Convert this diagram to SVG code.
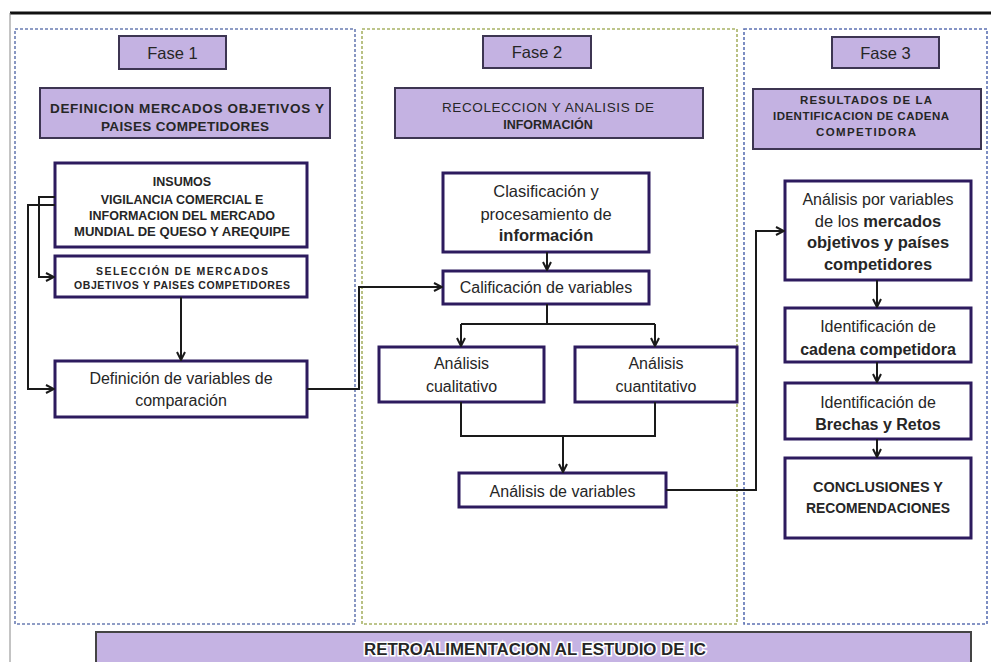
<svg xmlns="http://www.w3.org/2000/svg" width="991" height="662" viewBox="0 0 991 662">
<defs>
<marker id="arr" viewBox="0 0 10 10" refX="9" refY="5" markerWidth="10" markerHeight="10" markerUnits="userSpaceOnUse" orient="auto">
<path d="M1,1 L9,5 L1,9" fill="none" stroke="#1a1a1a" stroke-width="2"/>
</marker>
</defs>
<style>
.panel{fill:none;stroke-width:1.6;stroke-dasharray:3 2}
.lbl{fill:#c4b2e2;stroke:#3d3552;stroke-width:2}
.node{fill:#ffffff;stroke:#2d1b5e;stroke-width:3}
.conn{fill:none;stroke:#1a1a1a;stroke-width:2}
text{font-family:"Liberation Sans",Arial,sans-serif;fill:#262626;text-anchor:middle}
.b{font-weight:bold}
.hd{font-size:16.5px}
</style>
<rect width="991" height="662" fill="#ffffff"/>
<line x1="10" y1="13" x2="991" y2="13" stroke="#111" stroke-width="3"/>
<line x1="10" y1="13" x2="10" y2="662" stroke="#888" stroke-width="1"/>

<g id="panel1"><rect class="panel" x="15" y="29" width="340" height="595" stroke="#6b7db3"/></g>
<g id="panel2"><rect class="panel" x="362" y="29" width="375" height="595" stroke="#a8b266"/></g>
<g id="panel3"><rect class="panel" x="744" y="29" width="243" height="595" stroke="#5d72b3"/></g>

<g id="fase1"><rect class="lbl" x="119" y="36" width="107" height="33"/><text class="hd" x="172.5" y="58.5">Fase 1</text></g>
<g id="fase2"><rect class="lbl" x="483" y="36" width="108" height="32"/><text class="hd" x="537" y="58">Fase 2</text></g>
<g id="fase3"><rect class="lbl" x="832" y="37" width="107" height="31"/><text class="hd" x="885.5" y="58.5">Fase 3</text></g>

<g id="def-mercados"><rect class="lbl" x="40" y="88" width="290" height="50"/>
<text class="b" x="187" y="113" font-size="13.5" textLength="274" lengthAdjust="spacing">DEFINICION MERCADOS OBJETIVOS Y</text>
<text class="b" x="185" y="131" font-size="13.5" textLength="168" lengthAdjust="spacing">PAISES COMPETIDORES</text></g>

<g id="recoleccion"><rect class="lbl" x="395" y="88" width="308" height="50"/>
<text x="548" y="112" font-size="13.5" textLength="212" lengthAdjust="spacing">RECOLECCION Y ANALISIS DE</text>
<text class="b" x="548" y="129" font-size="12.5">INFORMACIÓN</text></g>

<g id="resultados"><rect class="lbl" x="753" y="89" width="228" height="60"/>
<text class="b" x="866" y="104" font-size="11.5" textLength="132" lengthAdjust="spacing">RESULTADOS DE LA</text>
<text class="b" x="861" y="120" font-size="11.5" textLength="176" lengthAdjust="spacing">IDENTIFICACION DE CADENA</text>
<text class="b" x="866" y="136" font-size="11.5" textLength="100" lengthAdjust="spacing">COMPETIDORA</text></g>

<g id="insumos"><rect class="node" x="55" y="163" width="252" height="84"/>
<text class="b" x="182" y="186" font-size="12.5">INSUMOS</text>
<text class="b" x="182" y="204" font-size="12.5">VIGILANCIA COMERCIAL E</text>
<text class="b" x="182" y="220" font-size="12.5">INFORMACION DEL MERCADO</text>
<text class="b" x="182" y="236" font-size="12.5" textLength="216" lengthAdjust="spacingAndGlyphs">MUNDIAL DE QUESO Y AREQUIPE</text></g>

<g id="seleccion"><rect class="node" x="55" y="256" width="252" height="41"/>
<text class="b" x="182" y="275" font-size="10.5" textLength="172" lengthAdjust="spacing">SELECCIÓN DE MERCADOS</text>
<text class="b" x="182" y="289" font-size="10.5" textLength="216" lengthAdjust="spacing">OBJETIVOS Y PAISES COMPETIDORES</text></g>

<g id="def-variables"><rect class="node" x="55" y="361" width="252" height="56"/>
<text x="181" y="384" font-size="16">Definición de variables de</text>
<text x="181" y="406" font-size="16">comparación</text></g>

<g id="clasificacion"><rect class="node" x="443" y="173" width="206" height="79"/>
<text x="546" y="197" font-size="16.5">Clasificación y</text>
<text x="546" y="220" font-size="16.5">procesamiento de</text>
<text class="b" x="546" y="241" font-size="16.5">información</text></g>

<g id="calificacion"><rect class="node" x="443" y="271" width="206" height="33"/>
<text x="546" y="293" font-size="16">Calificación  de variables</text></g>

<g id="cualitativo"><rect class="node" x="379" y="347" width="165" height="55"/>
<text x="461.5" y="369" font-size="16">Análisis</text>
<text x="461.5" y="392" font-size="16">cualitativo</text></g>

<g id="cuantitativo"><rect class="node" x="575" y="347" width="162" height="55"/>
<text x="656" y="369" font-size="16">Análisis</text>
<text x="656" y="392" font-size="16">cuantitativo</text></g>

<g id="analisis-variables"><rect class="node" x="459" y="473" width="207" height="34"/>
<text x="562.5" y="497" font-size="16">Análisis  de variables</text></g>

<g id="analisis-por-variables"><rect class="node" x="785" y="181" width="186" height="99"/>
<text x="878" y="205" font-size="16">Análisis por variables</text>
<text x="878" y="227" font-size="16.5">de los <tspan class="b">mercados</tspan></text>
<text class="b" x="878" y="248" font-size="16.5">objetivos y países</text>
<text class="b" x="878" y="270" font-size="16.5">competidores</text></g>

<g id="cadena"><rect class="node" x="785" y="308" width="186" height="54"/>
<text x="878" y="332" font-size="16">Identificación de</text>
<text class="b" x="878" y="355" font-size="16">cadena competidora</text></g>

<g id="brechas"><rect class="node" x="785" y="383" width="186" height="56"/>
<text x="878" y="408" font-size="16">Identificación de</text>
<text class="b" x="878" y="430" font-size="16">Brechas y Retos</text></g>

<g id="conclusiones"><rect class="node" x="785" y="458" width="186" height="80"/>
<text class="b" x="878" y="492" font-size="14" textLength="130" lengthAdjust="spacingAndGlyphs">CONCLUSIONES Y</text>
<text class="b" x="878" y="513" font-size="14" textLength="144" lengthAdjust="spacingAndGlyphs">RECOMENDACIONES</text></g>

<g id="retroalimentacion"><rect x="96" y="632" width="875" height="40" fill="#c5b3e3" stroke="#444" stroke-width="2"/>
<text class="b" x="535" y="655" font-size="16" stroke="#ffffff" stroke-width="3" paint-order="stroke" fill="#1a1a1a" textLength="342" lengthAdjust="spacingAndGlyphs">RETROALIMENTACION AL ESTUDIO DE IC</text></g>

<g id="connectors">
<polyline class="conn" points="55,197 39,197 39,277 54,277" marker-end="url(#arr)"/>
<polyline class="conn" points="55,205 28,205 28,389 54,389" marker-end="url(#arr)"/>
<polyline class="conn" points="181,297 181,360" marker-end="url(#arr)"/>
<polyline class="conn" points="307,389 359,389 359,287 442,287" marker-end="url(#arr)"/>
<polyline class="conn" points="547,252 547,270" marker-end="url(#arr)"/>
<polyline class="conn" points="547,304 547,324"/>
<polyline class="conn" points="461,324 655,324"/>
<polyline class="conn" points="461,324 461,346" marker-end="url(#arr)"/>
<polyline class="conn" points="655,324 655,346" marker-end="url(#arr)"/>
<polyline class="conn" points="461,402 461,436 655,436 655,402"/>
<polyline class="conn" points="563,436 563,472" marker-end="url(#arr)"/>
<polyline class="conn" points="666,490 756,490 756,231 784,231" marker-end="url(#arr)"/>
<polyline class="conn" points="877,280 877,307" marker-end="url(#arr)"/>
<polyline class="conn" points="877,362 877,382" marker-end="url(#arr)"/>
<polyline class="conn" points="877,439 877,457" marker-end="url(#arr)"/>
</g>
</svg>
